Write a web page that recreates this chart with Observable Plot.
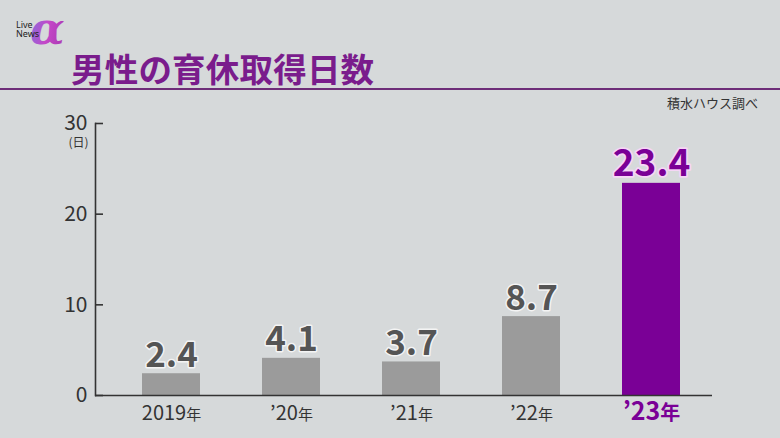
<!DOCTYPE html>
<html><head><meta charset="utf-8">
<script src="https://cdn.jsdelivr.net/npm/d3@7"></script>
<script src="https://cdn.jsdelivr.net/npm/@observablehq/plot@0.6"></script>
<style>
html,body{margin:0;padding:0;background:#d6d9da;}
#wrap{position:relative;width:780px;height:438px;overflow:hidden;background:#d6d9da;font-family:"Noto Sans CJK JP","Noto Sans",sans-serif;}
#logo{position:absolute;left:0;top:0;}
#title{position:absolute;left:71px;top:46px;font-size:33.5px;font-weight:700;color:#7a1c8c;letter-spacing:0.2px;line-height:44px;}
#rule{position:absolute;left:0;top:88px;width:780px;height:2px;background:#6e2d78;}
#source{position:absolute;right:22px;top:93px;font-size:13px;color:#333;}
#chart{position:absolute;left:0;top:95px;}
</style></head>
<body>
<div id="wrap">
  <svg id="logo" width="84" height="56">
    <defs><linearGradient id="ag" x1="0" x2="1" y1="0" y2="0.3">
      <stop offset="0" stop-color="#7a74e0"/><stop offset="0.6" stop-color="#c548c8"/><stop offset="1" stop-color="#b03cb8"/>
    </linearGradient></defs>
    <text x="30" y="44" font-size="45" font-style="italic" font-weight="700" font-family="DejaVu Serif, serif" fill="url(#ag)">α</text>
    <text x="16" y="28" font-size="9" font-family="Noto Sans, sans-serif" fill="#222">Live</text>
    <text x="16" y="37" font-size="9" font-family="Noto Sans, sans-serif" fill="#222">News</text>
  </svg>
  <div id="title">男性の育休取得日数</div>
  <div id="rule"></div>
  <div id="source">積水ハウス調べ</div>
  <div id="chart"></div>
</div>
<script>
const years = ["2019年", "’20年", "’21年", "’22年", "’23年"];
const days = [2.4, 4.1, 3.7, 8.7, 23.4];
const kinds = ["past", "past", "past", "past", "latest"];
const yTicks = [0, 10, 20, 30];

const gray = "#9b9b9b", purple = "#7a0096";
const data = years.map((y, i) => ({year: y, value: days[i], kind: kinds[i]}));

const W = 780, H = 343, mL = 95, mR = 68, mT = 28, mB = 43;

const chart = Plot.plot({
  width: W, height: H,
  marginLeft: mL, marginRight: mR, marginTop: mT, marginBottom: mB,
  style: {background: "transparent", fontFamily: "'Noto Sans CJK JP','Noto Sans',sans-serif", color: "#333", overflow: "visible"},
  x: {domain: years, range: [111, 711], paddingInner: 0.517, paddingOuter: 0.2585},
  y: {domain: [0, 30]},
  color: {domain: ["past", "latest"], range: [gray, purple]},
  marks: [
    Plot.barY(data, {x: "year", y: "value", fill: "kind"}),
    Plot.frame({anchor: "left", stroke: "#333", strokeWidth: 1.6}),
    Plot.ruleY(yTicks, {y: d => d, insetRight: W - mL - mR - 8, stroke: "#333", strokeWidth: 1.6}),
    Plot.ruleY([0], {stroke: "#333", strokeWidth: 1.6}),
    Plot.text(data.filter(d => d.kind === "past"), {
      x: "year", y: "value", text: d => d.value.toFixed(1), dy: -7, lineAnchor: "bottom",
      fontSize: 35, fontWeight: 700, fill: "#555", stroke: "#f4f4f4", strokeWidth: 3, paintOrder: "stroke"
    }),
    Plot.text(data.filter(d => d.kind === "latest"), {
      x: "year", y: "value", text: d => d.value.toFixed(1), dy: -7, lineAnchor: "bottom",
      fontSize: 37, fontWeight: 700, fill: purple, stroke: "#f6d6f6", strokeWidth: 3.5, paintOrder: "stroke"
    }),
    Plot.axisY({ticks: yTicks, tickSize: 0, tickPadding: 8, fontSize: 21, label: null}),
    Plot.text([30], {y: d => d, text: () => "(日)", frameAnchor: "left", dx: -7, dy: 20, textAnchor: "end", fontSize: 12, fill: "#333"}),
    Plot.axisX({tickSize: 0, tickPadding: 10, fontSize: 20, label: null})
  ]
});

// split the 年 suffix into a smaller tspan
d3.select(chart).selectAll('g[aria-label="x-axis tick label"] text').each(function(d, i) {
  const t = d3.select(this);
  const full = t.text();
  const num = full.replace("年", "");
  t.text(null);
  const last = i === years.length - 1;
  t.append("tspan").text(num).attr("font-size", last ? 25 : 20).attr("font-weight", last ? 700 : null);
  t.append("tspan").text("年").attr("font-size", last ? 20 : 15).attr("font-weight", last ? 700 : null);
  if (last) t.attr("fill", purple);
});

document.getElementById("chart").appendChild(chart);
</script>
</body></html>
